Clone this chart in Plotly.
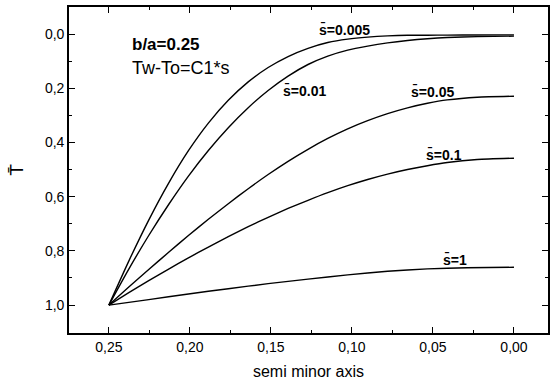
import plotly.graph_objects as go

# semi minor axis positions (shared grid) and T-bar values
x_grid = [0.25, 0.2377, 0.2254, 0.2131, 0.2009, 0.1886, 0.1763, 0.1640, 0.1517, 0.1394,
          0.1271, 0.1149, 0.1026, 0.0903, 0.0780, 0.0657, 0.0534, 0.0412, 0.0227, 0.0]

y_s0005 = [1.0, 0.8376, 0.6863, 0.5498, 0.4303, 0.3284, 0.2443, 0.1764, 0.1232, 0.0827,
           0.0524, 0.0310, 0.0185, 0.0111, 0.0066, 0.0044, 0.0040, 0.0037, 0.0033, 0.0030]

y_s001 = [1.0, 0.8672, 0.7432, 0.6288, 0.5240, 0.4295, 0.3454, 0.2716, 0.2081, 0.1550,
          0.1122, 0.0812, 0.0590, 0.0443, 0.0325, 0.0236, 0.0170, 0.0125, 0.0092, 0.0074]

y_s005 = [1.0, 0.9336, 0.8686, 0.8052, 0.7432, 0.6834, 0.6258, 0.5705, 0.5181, 0.4694,
          0.4251, 0.3852, 0.3498, 0.3196, 0.2937, 0.2723, 0.2554, 0.2428, 0.2328, 0.2292]

y_s01 = [1.0, 0.9542, 0.9100, 0.8672, 0.8258, 0.7860, 0.7476, 0.7107, 0.6760, 0.6435,
         0.6133, 0.5852, 0.5594, 0.5365, 0.5166, 0.4996, 0.4856, 0.4738, 0.4627, 0.4579]

x_s1 = [0.25, 0.2254, 0.2009, 0.1763, 0.1517, 0.1271, 0.1026, 0.0780, 0.0534, 0.0289, 0.0]
y_s1 = [1.0, 0.9797, 0.9590, 0.9395, 0.9210, 0.9041, 0.8886, 0.8753, 0.8664, 0.8620, 0.8605]

labels = ["s\u0304=0.005", "s\u0304=0.01", "s\u0304=0.05", "s\u0304=0.1", "s\u0304=1"]
label_x = [0.1044, 0.1293, 0.050, 0.0433, 0.0367]
label_y = [-0.018, 0.207, 0.210, 0.446, 0.830]

FONT = "Liberation Sans, Arial, sans-serif"

fig = go.Figure()
for xs, ys in [(x_grid, y_s0005), (x_grid, y_s001), (x_grid, y_s005), (x_grid, y_s01), (x_s1, y_s1)]:
    fig.add_trace(go.Scatter(x=xs, y=ys, mode="lines",
                             line=dict(color="black", width=1.4, shape="spline", smoothing=0.6),
                             showlegend=False, hoverinfo="skip"))

for t, lx, ly in zip(labels, label_x, label_y):
    fig.add_annotation(x=lx, y=ly, text="<b>" + t + "</b>", showarrow=False,
                       font=dict(family=FONT, size=14, color="black"))

fig.add_annotation(xref="paper", yref="paper", x=(130 - 69) / 481, y=(333 - 44) / 326, xanchor="left", yanchor="middle",
                   text="<b>b/a=0.25</b>", showarrow=False,
                   font=dict(family=FONT, size=17, color="black"))
fig.add_annotation(xref="paper", yref="paper", x=(130 - 69) / 481, y=(333 - 68) / 326, xanchor="left", yanchor="middle",
                   text="Tw-To=C1*s", showarrow=False,
                   font=dict(family=FONT, size=18, color="black"))

axis_common = dict(showline=True, linecolor="black", linewidth=1.6, mirror="allticks",
                   ticks="inside", ticklen=6, tickwidth=1.2, tickcolor="black",
                   showgrid=False, zeroline=False,
                   tickfont=dict(family=FONT, size=14, color="black"))

fig.update_xaxes(range=[0.2746, -0.021], tickvals=[0.25, 0.2, 0.15, 0.1, 0.05, 0.0], tickformat=".2f",
                 minor=dict(ticks="inside", ticklen=3, tickcolor="black", dtick=0.025, tick0=0.0),
                 title=dict(text="semi minor axis", font=dict(family=FONT, size=16, color="black"),
                            standoff=12),
                 **axis_common)
fig.update_yaxes(range=[1.103, -0.1], tickvals=[0.0, 0.2, 0.4, 0.6, 0.8, 1.0], tickformat=".1f",
                 minor=dict(ticks="inside", ticklen=3, tickcolor="black", dtick=0.1, tick0=0.0),
                 title=dict(text="T\u0304", font=dict(family=FONT, size=19, color="black"),
                            standoff=16),
                 **axis_common)

fig.update_layout(width=554, height=385, margin=dict(l=69, r=4, t=7, b=52),
                  paper_bgcolor="white", plot_bgcolor="white", separators=",.")

fig.write_html("out.html")
